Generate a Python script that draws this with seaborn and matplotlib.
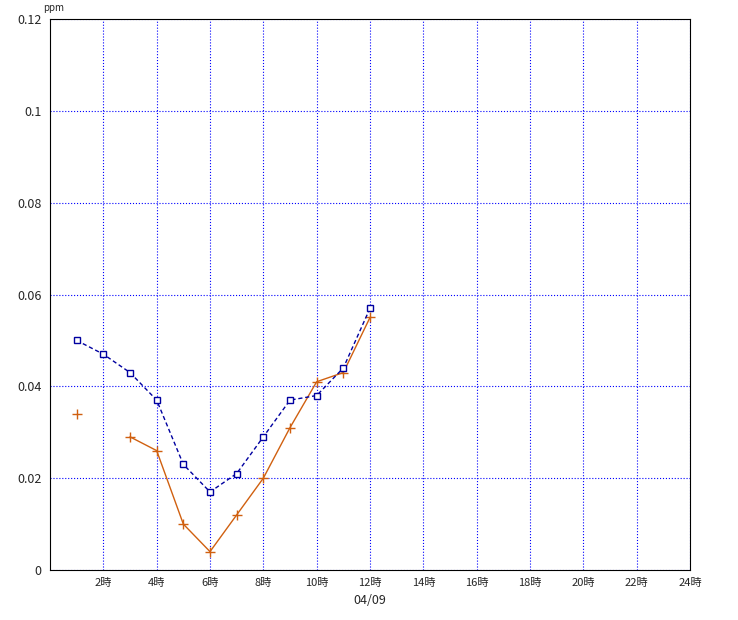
import matplotlib
matplotlib.use("Agg")
import matplotlib.pyplot as plt
import seaborn as sns
import numpy as np
import pandas as pd

sns.set_style("white")
plt.rcParams['font.family'] = ['Noto Sans CJK JP', 'DejaVu Sans']

hours = list(range(1, 13))
blue_vals = [0.050, 0.047, 0.043, 0.037, 0.023, 0.017, 0.021, 0.029, 0.037, 0.038, 0.044, 0.057]
orange_vals = [0.034, np.nan, 0.029, 0.026, 0.010, 0.004, 0.012, 0.020, 0.031, 0.041, 0.043, 0.055]
xticks = list(range(2, 25, 2))
xlabels = [f"{h}時" for h in xticks]
yticks = [0, 0.02, 0.04, 0.06, 0.08, 0.1, 0.12]
ylabels = ["0", "0.02", "0.04", "0.06", "0.08", "0.1", "0.12"]

df = pd.DataFrame({"hour": hours, "blue": blue_vals, "orange": orange_vals})

fig = plt.figure(figsize=(7.38, 6.2), dpi=100)
ax = fig.add_axes([50/738, 50/620, 640/738, 551/620])

# plain plot keeps the gap at the missing hour
ax.plot(df["hour"], df["orange"], color="#d06010", lw=1,
        marker="+", markersize=7, mew=1, markeredgecolor="#d06010")
sns.lineplot(data=df, x="hour", y="blue", ax=ax, color="#0000a0", lw=1,
             linestyle=(0, (3, 2)), marker="s", markersize=5,
             markerfacecolor="white", markeredgecolor="#0000a0", mew=1)

ax.set_xlim(0, 24)
ax.set_ylim(0, 0.12)
ax.set_xticks(xticks)
ax.set_xticklabels(xlabels, fontsize=8)
ax.set_yticks(yticks)
ax.set_yticklabels(ylabels, fontsize=9)
ax.grid(True, color="blue", linestyle=":", lw=0.8)
for s in ax.spines.values():
    s.set_color("black")
ax.tick_params(length=0, pad=6)
ax.set_xlabel("04/09", fontsize=9)
ax.set_ylabel("")
ax.text(-0.01, 1.01, "ppm", transform=ax.transAxes, fontsize=7, ha="left", va="bottom")

fig.savefig("out.png", dpi=100)
